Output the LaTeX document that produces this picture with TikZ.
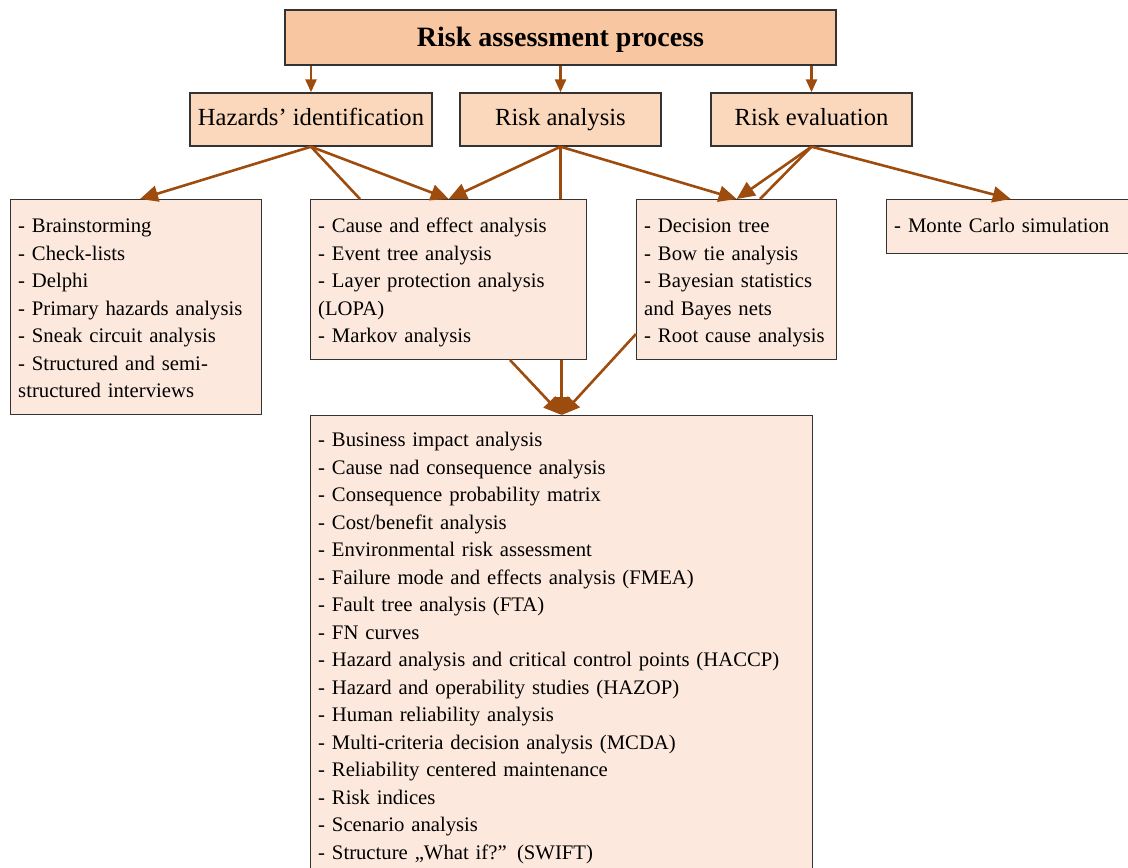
\documentclass[tikz,border=0pt]{standalone}
\usepackage{fontspec}
\setmainfont{Liberation Serif}
\usetikzlibrary{arrows.meta, positioning}
\definecolor{titlefill}{RGB}{248,198,160}
\definecolor{stepfill}{RGB}{251,216,188}
\definecolor{listfill}{RGB}{252,232,220}
\definecolor{linkbrown}{RGB}{158,76,14}
\tikzset{
	x=0.5pt, y=-0.5pt, % one unit is one pixel of the figure, y runs downwards
	>={Triangle[length=9pt, width=8pt]}, % big filled arrow heads
	titlebox/.style={draw=black!80, line width=0.7pt, fill=titlefill, minimum width=275.5pt, minimum height=27.5pt, text depth=0.5pt, font=\bfseries\fontsize{14}{16}\selectfont}, % the top box
	stepbox/.style={draw=black!80, line width=0.7pt, fill=stepfill, minimum height=26.5pt, text height=8.7pt, text depth=2.6pt, font=\fontsize{12.3}{14}\selectfont}, % the three steps
	listbox/.style={draw=black!80, line width=0.7pt, fill=listfill, anchor=north west, align=left, inner xsep=3.75pt, inner ysep=0pt, text height=16.5pt, font=\fontsize{10.35}{13.75}\selectfont}, % the lists of methods
	link/.style={color=linkbrown, line width=1.3pt}, % brown connectors
}
\begin{document}
\begin{tikzpicture}
	\useasboundingbox (0,0) rectangle (1128,867);
			\node[titlebox] (process) at (560.5,37.5) {Risk assessment process};
			\node[stepbox, minimum width=121pt] (hazid) at (311,119.5) {Hazards’ identification};
			\node[stepbox, minimum width=100.5pt] (riskan) at (560.5,119.5) {Risk analysis};
			\node[stepbox, minimum width=100.5pt] (riskev) at (811.5,119.5) {Risk evaluation};
			\node[listbox, text width=118pt, text depth=91pt] (hazlist) at (10,199) {- Brainstorming\\- Check-lists\\- Delphi\\- Primary hazards analysis\\- Sneak circuit analysis\\- Structured and semi-\\structured interviews};
			\node[listbox, text width=130.5pt, text depth=63.5pt] (anlist) at (310,199) {- Cause and effect analysis\\- Event tree analysis\\- Layer protection analysis\\(LOPA)\\- Markov analysis};
			\node[listbox, text width=92.5pt, text depth=63.5pt] (evlist) at (636,199) {- Decision tree\\- Bow tie analysis\\- Bayesian statistics\\and Bayes nets\\- Root cause analysis};
			\node[listbox, text width=116.5pt, text depth=10.5pt] (mclist) at (886,199) {- Monte Carlo simulation};
			\node[listbox, text width=243.5pt, text height=15.5pt, text depth=240pt] (toollist) at (310,415) {- Business impact analysis\\- Cause nad consequence analysis\\- Consequence probability matrix\\- Cost/benefit analysis\\- Environmental risk assessment\\- Failure mode and effects analysis (FMEA)\\- Fault tree analysis (FTA)\\- FN curves\\- Hazard analysis and critical control points (HACCP)\\- Hazard and operability studies (HAZOP)\\- Human reliability analysis\\- Multi-criteria decision analysis (MCDA)\\- Reliability centered maintenance\\- Risk indices\\- Scenario analysis\\- Structure „What if?” (SWIFT)};
			\coordinate (hazin) at (140,199);
			\coordinate (hazside) at (360,199);
			\coordinate (evside) at (760,199);
			\coordinate (anout) at (510,360);
			\coordinate (evout) at (636,334);
	\draw[link, >={Triangle[length=6.5pt, width=5.5pt]}]
			(hazid.north |- process.south) edge[->] (hazid.north)
			(riskan.north |- process.south) edge[->] (riskan.north)
			(riskev.north |- process.south) edge[->] (riskev.north);
	\draw[link]	(hazid.south) edge[->] (hazin)
			(hazid.south) edge (hazside)
			(hazid.south) edge[->] (anlist.north)
			(riskan.south) edge[->] (anlist.north)
			(riskan.south) edge (riskan.south |- anlist.north)
			(riskan.south) edge[->] (evlist.north)
			(riskev.south) edge[->] (evlist.north)
			(riskev.south) edge (evside)
			(riskev.south) edge[->] (mclist.north)
			(anout) edge[->] (toollist.north)
			(anlist.south -| toollist.north) edge[->] (toollist.north)
			(evout) edge[->] (toollist.north);
\end{tikzpicture}
\end{document}
